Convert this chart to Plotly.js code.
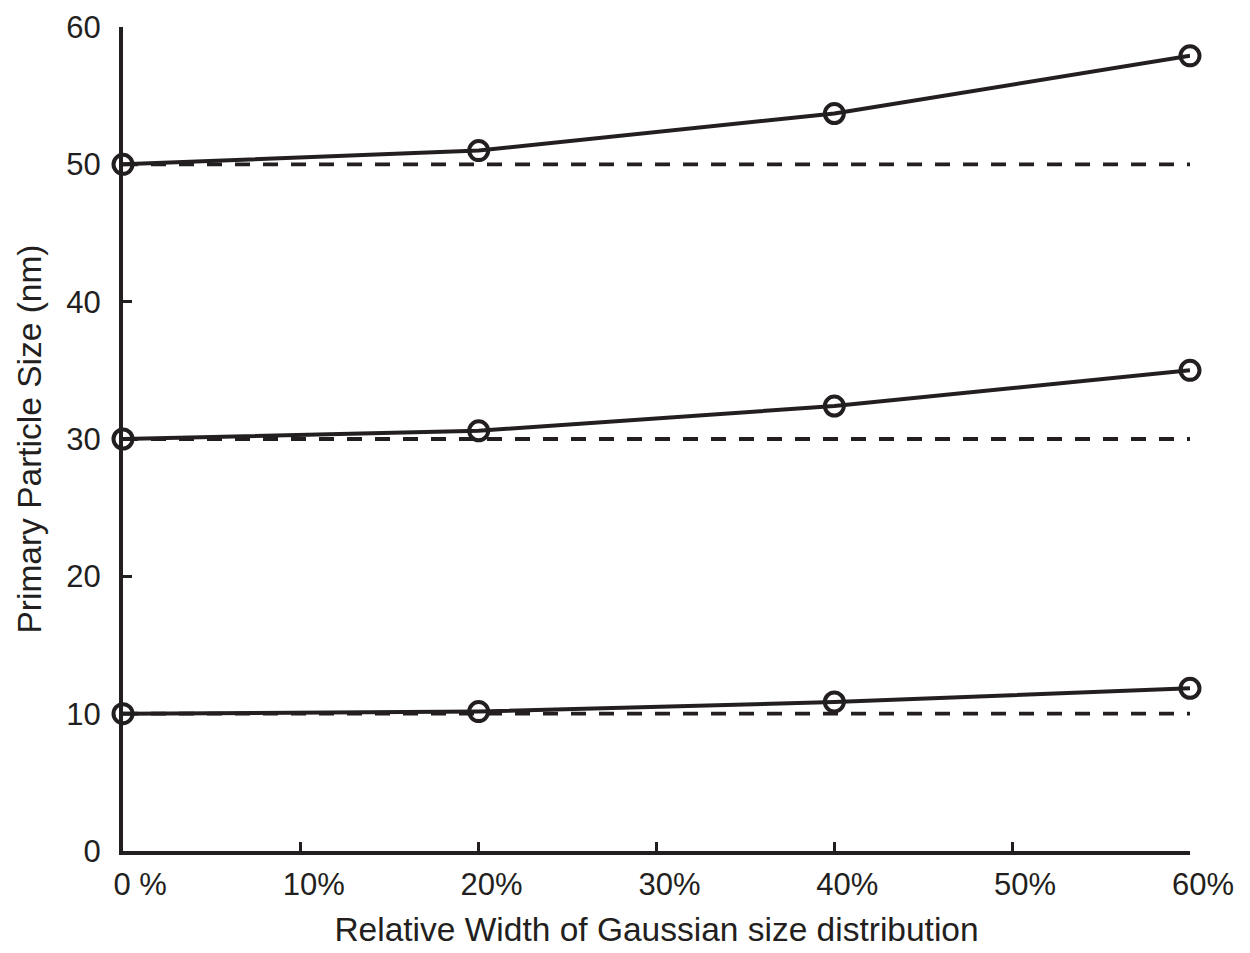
<!DOCTYPE html>
<html>
<head>
<meta charset="utf-8">
<script src="https://cdn.plot.ly/plotly-3.0.1.min.js"></script>
<style>html,body{margin:0;padding:0;background:#fff;}#chart{width:1250px;height:953px;}</style>
</head>
<body>
<div id="chart"></div>
<script>
var widths = [0, 0.2, 0.4, 0.6];
var size50 = [50, 51.0, 53.7, 57.9];
var size30 = [30, 30.6, 32.4, 35.0];
var size10 = [10, 10.15, 10.85, 11.85];
var nominalX = [0, 0.6];
var nominal50 = [50, 50];
var nominal30 = [30, 30];
var nominal10 = [10, 10];
var xTickVals = [0, 0.1, 0.2, 0.3, 0.4, 0.5, 0.6];
var xTickText = ['0 %', '10%', '20%', '30%', '40%', '50%', '60%'];
var yTickVals = [0, 10, 20, 30, 40, 50, 60];

var ink = '#231f20';
var fam = 'Arial, Helvetica, "Liberation Sans", sans-serif';
// pad labels so the number (not the percent sign) sits centred on the tick
var xTickShown = xTickText.map(function (t) {
  var n = t.indexOf(' ') >= 0 ? 4 : 3;
  return new Array(n + 1).join('&nbsp;') + t;
});
function dashed(y) {
  return {x: nominalX, y: y, mode: 'lines', line: {color: ink, width: 3.8, dash: '15px,13px'}, hoverinfo: 'skip', cliponaxis: false};
}
function solid(y) {
  return {x: widths, y: y, mode: 'lines+markers', line: {color: ink, width: 4},
    marker: {symbol: 'circle-open', size: 19, color: ink, line: {color: ink, width: 4}}, cliponaxis: false};
}
var data = [dashed(nominal50), dashed(nominal30), dashed(nominal10), solid(size50), solid(size30), solid(size10)];
var layout = {
  width: 1250, height: 953,
  margin: {l: 123, r: 60, t: 27, b: 102},
  showlegend: false,
  paper_bgcolor: '#fff', plot_bgcolor: '#fff',
  font: {family: fam, color: ink},
  xaxis: {
    range: [0, 0.6], tickvals: xTickVals, ticktext: xTickShown,
    ticks: 'inside', ticklen: 9, tickwidth: 3, tickcolor: ink,
    showline: true, linewidth: 4, linecolor: ink, showgrid: false, zeroline: false,
    tickfont: {size: 31, family: fam, color: ink},
    title: {text: 'Relative Width of Gaussian size distribution', font: {size: 33.5, family: fam, color: ink}, standoff: 17},
    ticklabelstandoff: 3
  },
  yaxis: {
    range: [0, 60], tickvals: yTickVals,
    ticks: 'inside', ticklen: 9, tickwidth: 3, tickcolor: ink,
    showline: true, linewidth: 4, linecolor: ink, showgrid: false, zeroline: false,
    tickfont: {size: 31, family: fam, color: ink},
    title: {text: 'Primary Particle Size (nm)', font: {size: 33.5, family: fam, color: ink}, standoff: 16},
    ticklabelstandoff: 12
  }
};
Plotly.newPlot('chart', data, layout, {displayModeBar: false, staticPlot: true});
</script>
</body>
</html>
